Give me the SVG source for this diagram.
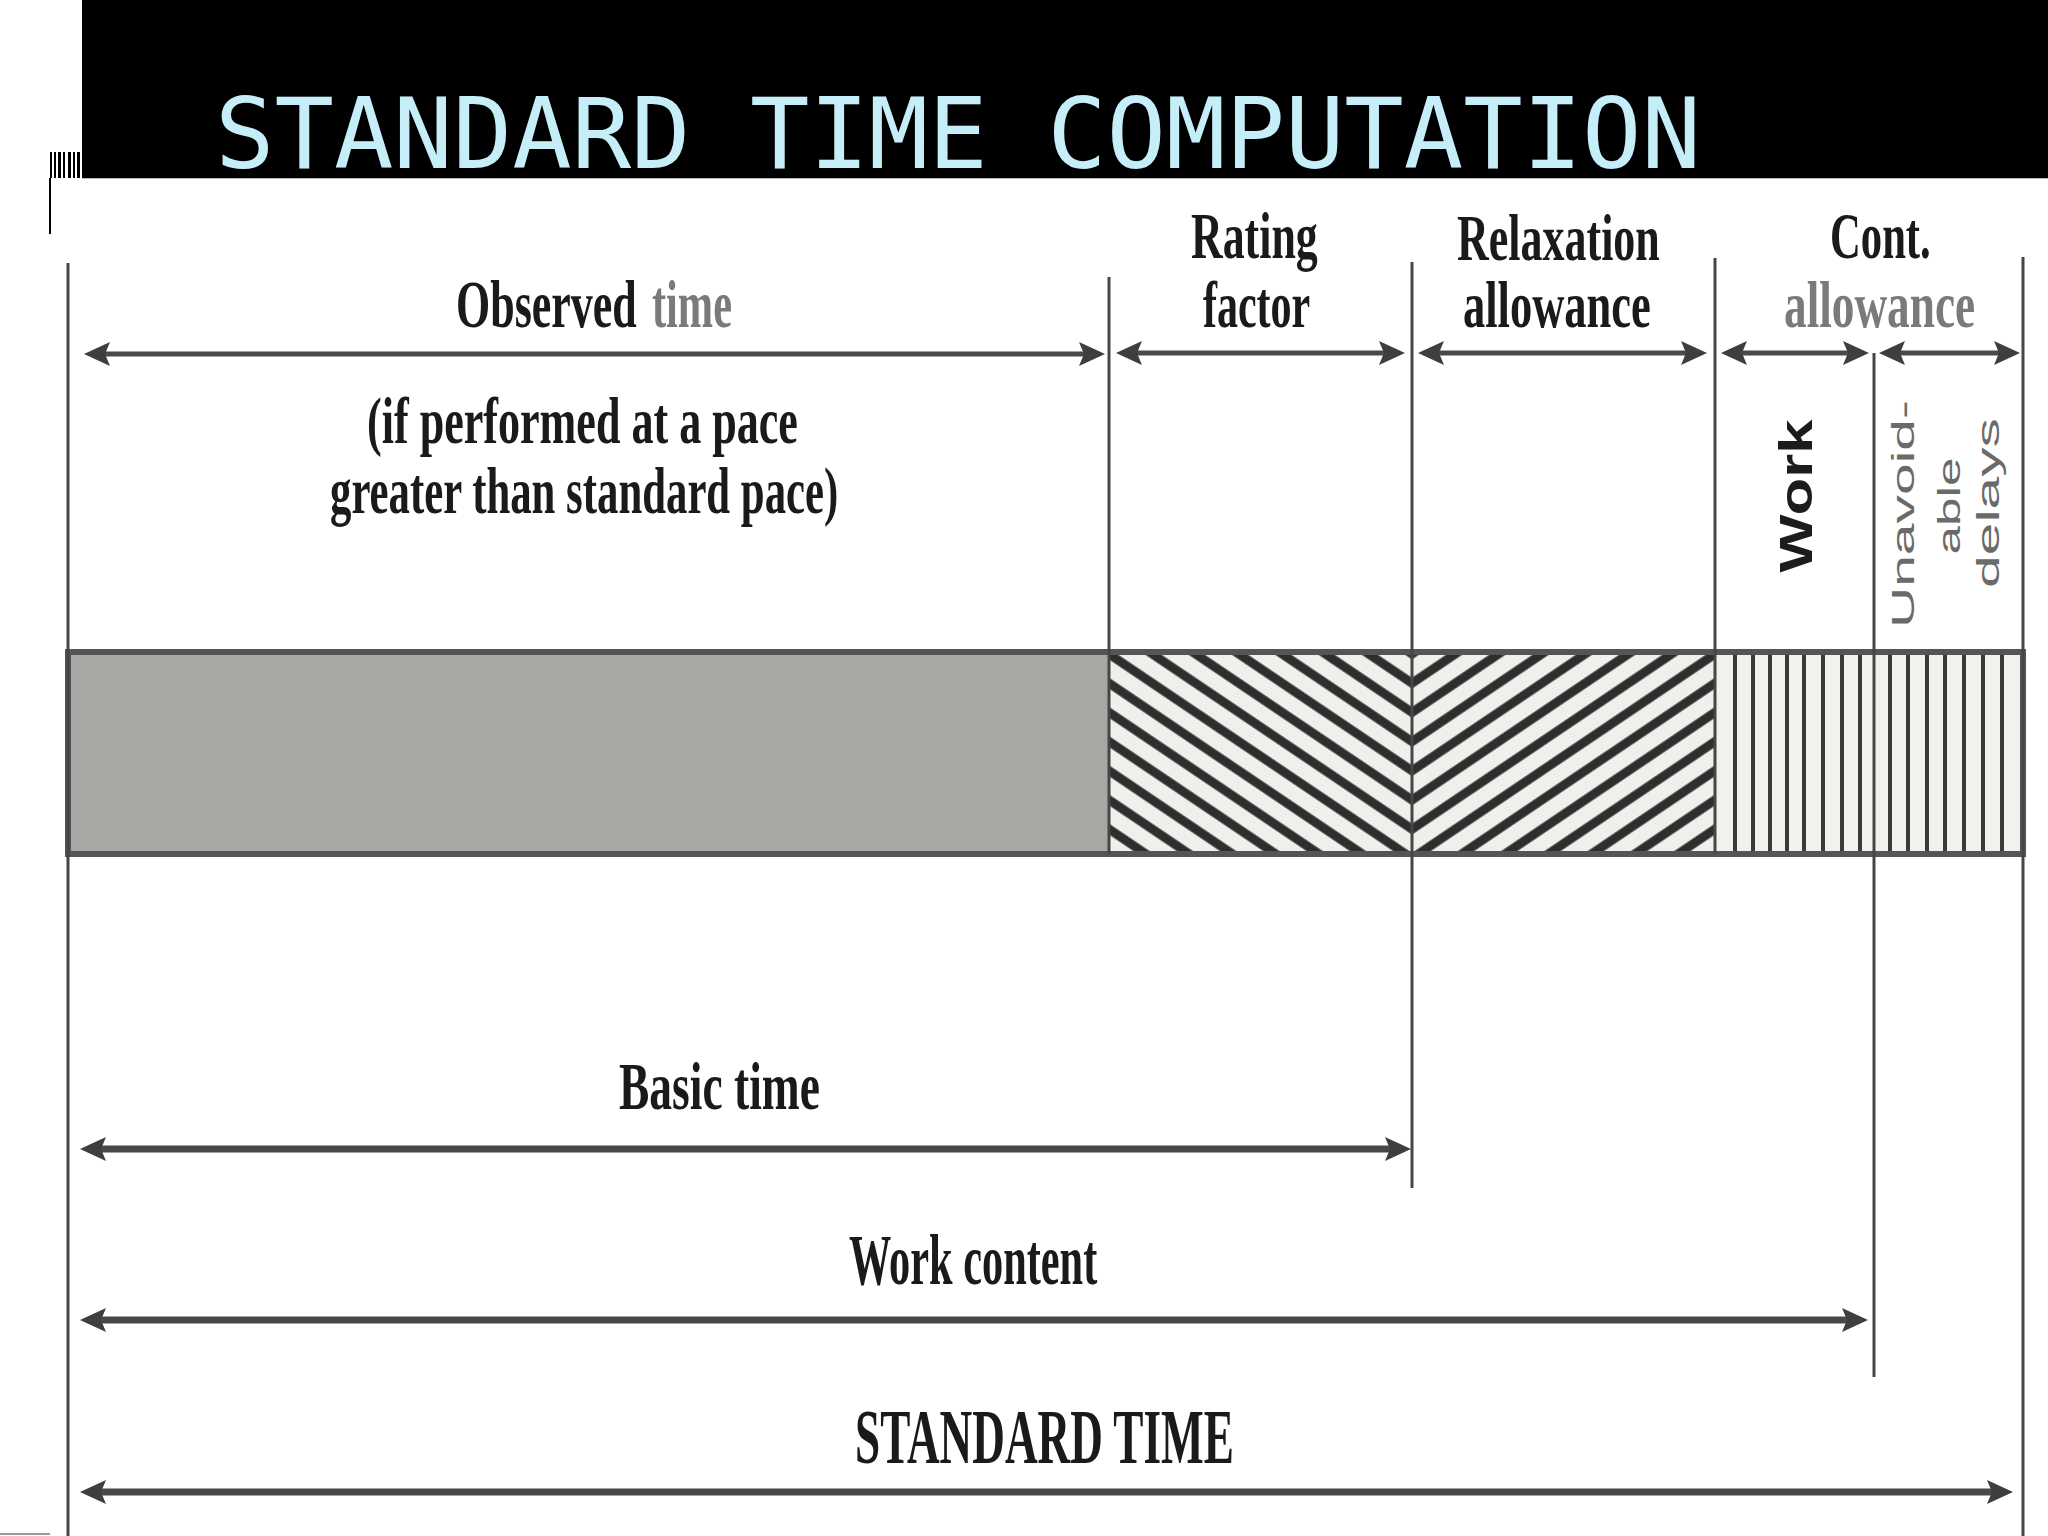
<svg xmlns="http://www.w3.org/2000/svg" width="2048" height="1536" viewBox="0 0 2048 1536">
<style>
.lbl{font-family:"Liberation Serif","Times New Roman",serif;font-weight:bold;fill:#1a1a1a}
.gray{fill:#7a7a7a}
.rot{font-family:"Liberation Sans",Arial,sans-serif;font-weight:bold;fill:#1c1c1c}
.rotg{font-family:"Liberation Sans",Arial,sans-serif;fill:#6a6a6a}
.vline{stroke:#464646;stroke-width:3;fill:none}
.arr{stroke:#4a4a4a;stroke-width:5;fill:none;marker-start:url(#ah);marker-end:url(#ah)}
.arrb{stroke:#484848;stroke-width:7;fill:none;marker-start:url(#ah);marker-end:url(#ah)}
.hatchv{stroke:#3a3a3a;stroke-width:4}
</style>
<defs>
<marker id="ah" viewBox="0 0 26 24" markerWidth="26" markerHeight="24" refX="6" refY="12" orient="auto-start-reverse" markerUnits="userSpaceOnUse">
<path d="M0,0 L26,12 L0,24 L5,12 z" fill="#3e3e3e"/>
</marker>
<pattern id="hatchR" patternUnits="userSpaceOnUse" width="200" height="24.2" patternTransform="translate(1412,654) rotate(34)">
<rect width="200" height="24.2" fill="#efefeb"/>
<rect y="-4.5" width="200" height="9" fill="#2e2e2e"/>
<rect y="19.7" width="200" height="9" fill="#2e2e2e"/>
</pattern>
<pattern id="hatchL" patternUnits="userSpaceOnUse" width="200" height="24.2" patternTransform="translate(1412,654) rotate(-34)">
<rect width="200" height="24.2" fill="#efefeb"/>
<rect y="-4.5" width="200" height="9" fill="#2e2e2e"/>
<rect y="19.7" width="200" height="9" fill="#2e2e2e"/>
</pattern>
</defs>
<rect width="2048" height="1536" fill="#ffffff"/>
<g id="title-bar">
<rect x="82" y="0" width="1966" height="178" fill="#000000"/>
<line x1="82" y1="178.5" x2="2048" y2="178.5" stroke="#b8b8b8" stroke-width="1"/>
<text x="215" y="168" font-family="'DejaVu Sans Mono',monospace" font-size="98" fill="#c6eef9" textLength="1486" lengthAdjust="spacingAndGlyphs">STANDARD TIME COMPUTATION</text>
</g>
<g id="left-marks" fill="#000">
<rect x="50" y="152" width="2" height="26"/>
<rect x="54" y="152" width="2" height="26"/>
<rect x="58" y="152" width="3" height="26"/>
<rect x="63" y="152" width="2" height="26"/>
<rect x="68" y="152" width="3" height="26"/>
<rect x="73" y="152" width="2" height="26"/>
<rect x="77" y="152" width="3" height="26"/>
<rect x="49" y="178" width="2" height="56"/>
<rect x="0" y="1533" width="50" height="2" fill="#999"/>
</g>
<g id="bar">
<rect id="observed-block" x="68" y="652" width="1041" height="202" fill="#a7a8a3"/>
<rect id="rating-block" x="1109" y="652" width="303" height="202" fill="url(#hatchR)"/>
<rect id="relax-block" x="1412" y="652" width="303" height="202" fill="url(#hatchL)"/>
<rect id="cont-block" x="1715" y="652" width="308" height="202" fill="#f1f1ed"/>
<g class="hatchv">
<line x1="1735" y1="652" x2="1735" y2="854"/>
<line x1="1753" y1="652" x2="1753" y2="854"/>
<line x1="1770" y1="652" x2="1770" y2="854"/>
<line x1="1787" y1="652" x2="1787" y2="854"/>
<line x1="1804" y1="652" x2="1804" y2="854"/>
<line x1="1823" y1="652" x2="1823" y2="854"/>
<line x1="1842" y1="652" x2="1842" y2="854"/>
<line x1="1860" y1="652" x2="1860" y2="854"/>
<line x1="1890" y1="652" x2="1890" y2="854"/>
<line x1="1908" y1="652" x2="1908" y2="854"/>
<line x1="1927" y1="652" x2="1927" y2="854"/>
<line x1="1945" y1="652" x2="1945" y2="854"/>
<line x1="1964" y1="652" x2="1964" y2="854"/>
<line x1="1983" y1="652" x2="1983" y2="854"/>
<line x1="2002" y1="652" x2="2002" y2="854"/>
</g>
<rect x="68" y="652" width="1955" height="202" fill="none" stroke="#555" stroke-width="6"/>
</g>
<g id="connectors">
<line class="vline" x1="68" y1="263" x2="68" y2="1536"/>
<line class="vline" x1="1109" y1="277" x2="1109" y2="854"/>
<line class="vline" x1="1412" y1="262" x2="1412" y2="1188"/>
<line class="vline" x1="1715" y1="258" x2="1715" y2="854"/>
<line class="vline" x1="1874" y1="353" x2="1874" y2="1377"/>
<line class="vline" x1="2023" y1="257" x2="2023" y2="1536"/>
<line class="arr" x1="104" y1="354" x2="1085" y2="354"/>
<line class="arr" x1="1136" y1="353" x2="1385" y2="353"/>
<line class="arr" x1="1438" y1="353" x2="1687" y2="353"/>
<line class="arr" x1="1741" y1="353" x2="1849" y2="353"/>
<line class="arr" x1="1899" y1="353" x2="2000" y2="353"/>
<line class="arrb" x1="100" y1="1149" x2="1391" y2="1149"/>
<line class="arrb" x1="100" y1="1320" x2="1848" y2="1320"/>
<line class="arrb" x1="100" y1="1492" x2="1993" y2="1492"/>
</g>
<g id="observed-label">
<text class="lbl" transform="translate(456,327) scale(0.65,1)" font-size="68" textLength="278" lengthAdjust="spacingAndGlyphs">Observed</text>
<text class="lbl gray" transform="translate(652,327) scale(0.65,1)" font-size="68" textLength="123" lengthAdjust="spacingAndGlyphs">time</text>
<text class="lbl" transform="translate(367,443) scale(0.65,1)" font-size="66" textLength="663" lengthAdjust="spacingAndGlyphs">(if performed at a pace</text>
<text class="lbl" transform="translate(330,513) scale(0.65,1)" font-size="66" textLength="782" lengthAdjust="spacingAndGlyphs">greater than standard pace)</text>
</g>
<g id="rating-label">
<text class="lbl" transform="translate(1191,258) scale(0.65,1)" font-size="66" textLength="195" lengthAdjust="spacingAndGlyphs">Rating</text>
<text class="lbl" transform="translate(1203,327) scale(0.65,1)" font-size="66" textLength="165" lengthAdjust="spacingAndGlyphs">factor</text>
</g>
<g id="relaxation-label">
<text class="lbl" transform="translate(1457,260) scale(0.65,1)" font-size="66" textLength="312" lengthAdjust="spacingAndGlyphs">Relaxation</text>
<text class="lbl" transform="translate(1463,327) scale(0.65,1)" font-size="66" textLength="289" lengthAdjust="spacingAndGlyphs">allowance</text>
</g>
<g id="cont-label">
<text class="lbl" transform="translate(1830,258) scale(0.65,1)" font-size="66" textLength="155" lengthAdjust="spacingAndGlyphs">Cont.</text>
<text class="lbl gray" transform="translate(1784,327) scale(0.65,1)" font-size="66" textLength="294" lengthAdjust="spacingAndGlyphs">allowance</text>
</g>
<g id="work-label">
<text class="rot" transform="translate(1812,496) rotate(-90) scale(1,0.75)" text-anchor="middle" font-size="61" textLength="153" lengthAdjust="spacingAndGlyphs">Work</text>
</g>
<g id="delays-label">
<text class="rotg" transform="translate(1914,514) rotate(-90) scale(1,0.6)" text-anchor="middle" font-size="53" textLength="228" lengthAdjust="spacingAndGlyphs">Unavoid-</text>
<text class="rotg" transform="translate(1960,506) rotate(-90) scale(1,0.6)" text-anchor="middle" font-size="53" textLength="97" lengthAdjust="spacingAndGlyphs">able</text>
<text class="rotg" transform="translate(1999,503) rotate(-90) scale(1,0.6)" text-anchor="middle" font-size="53" textLength="170" lengthAdjust="spacingAndGlyphs">delays</text>
</g>
<g id="basic-time">
<text class="lbl" transform="translate(619,1109) scale(0.65,1)" font-size="68" textLength="309" lengthAdjust="spacingAndGlyphs">Basic time</text>
</g>
<g id="work-content">
<text class="lbl" transform="translate(849,1284) scale(0.65,1)" font-size="72" textLength="382" lengthAdjust="spacingAndGlyphs">Work content</text>
</g>
<g id="standard-time">
<text class="lbl" transform="translate(855,1463) scale(0.65,1)" font-size="78" textLength="583" lengthAdjust="spacingAndGlyphs">STANDARD TIME</text>
</g>
</svg>
